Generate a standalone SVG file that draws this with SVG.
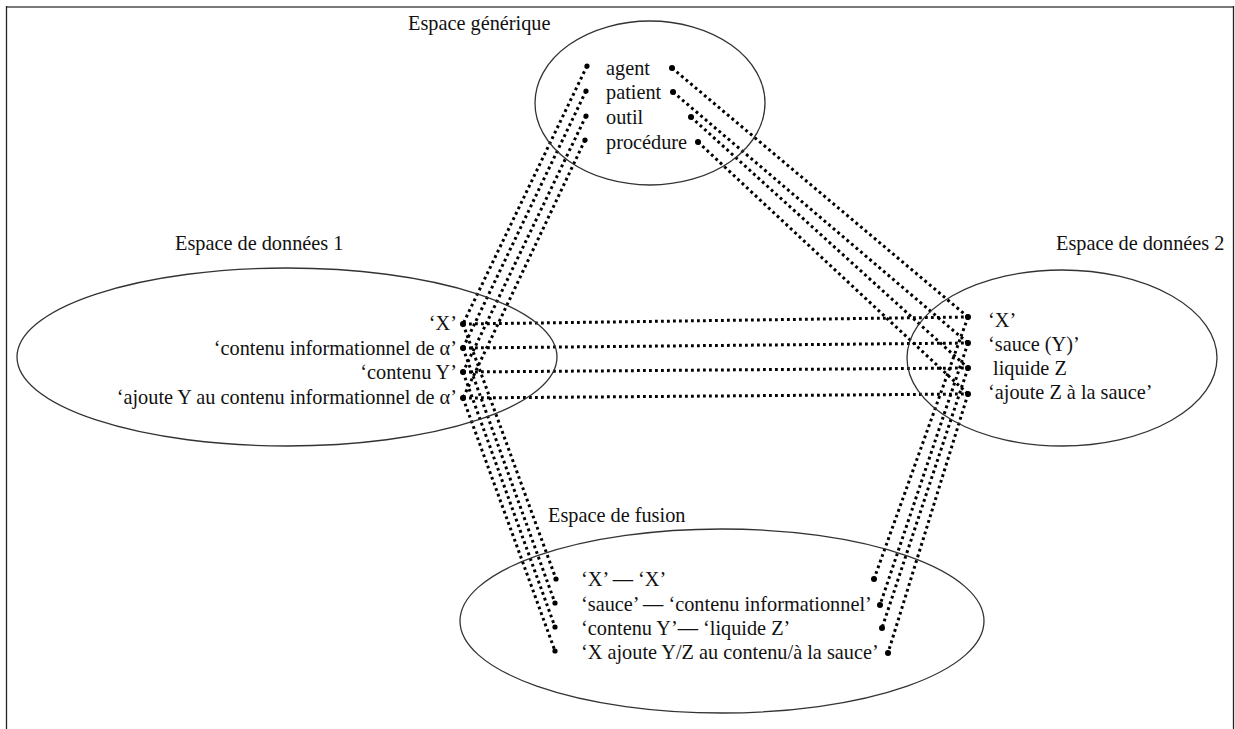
<svg xmlns="http://www.w3.org/2000/svg" width="1235" height="729" viewBox="0 0 1235 729">
<style>
.t{font-family:"Liberation Serif","Times New Roman",serif;font-size:20.3px;fill:#111}
.e{fill:none;stroke:#333;stroke-width:1.3}
.c{fill:none;stroke:#000;stroke-width:3;stroke-dasharray:2.8 3.2}
.d{fill:#000}
</style>
<rect width="1235" height="729" fill="#fff"/>
<g id="frame">
<line x1="6" y1="7" x2="1234" y2="7" stroke="#7a7a7a" stroke-width="2"/>
<line x1="6.5" y1="6" x2="6.5" y2="729" stroke="#222" stroke-width="1.3"/>
<line x1="1233.5" y1="6" x2="1233.5" y2="729" stroke="#222" stroke-width="1.3"/>
</g>
<g id="connectors">
<line class="c" x1="587" y1="66" x2="463" y2="324"/>
<line class="c" x1="586" y1="91" x2="463" y2="348"/>
<line class="c" x1="586" y1="116" x2="463" y2="372"/>
<line class="c" x1="585" y1="140" x2="463" y2="398"/>
<line class="c" x1="463" y1="324" x2="556" y2="579"/>
<line class="c" x1="463" y1="348" x2="555" y2="603"/>
<line class="c" x1="463" y1="372" x2="555" y2="627"/>
<line class="c" x1="463" y1="398" x2="555" y2="651"/>
<line class="c" x1="672" y1="68" x2="968" y2="317"/>
<line class="c" x1="673" y1="92" x2="968" y2="343"/>
<line class="c" x1="691" y1="117" x2="968" y2="368"/>
<line class="c" x1="698" y1="142" x2="968" y2="394"/>
<line class="c" x1="968" y1="317" x2="874" y2="579"/>
<line class="c" x1="968" y1="343" x2="880" y2="605"/>
<line class="c" x1="968" y1="368" x2="882" y2="628"/>
<line class="c" x1="968" y1="394" x2="888" y2="653"/>
<line class="c" x1="463" y1="324" x2="968" y2="317"/>
<line class="c" x1="463" y1="348" x2="968" y2="343"/>
<line class="c" x1="463" y1="372" x2="968" y2="368"/>
<line class="c" x1="463" y1="398" x2="968" y2="394"/>
</g>
<g id="generic">
<ellipse class="e" cx="650" cy="103" rx="115" ry="82"/>
<text class="t" x="408" y="30">Espace générique</text>
<text class="t" x="606" y="75">agent</text>
<text class="t" x="606" y="99">patient</text>
<text class="t" x="606" y="124">outil</text>
<text class="t" x="606" y="149">procédure</text>
<circle class="d" cx="587" cy="66" r="2.6"/>
<circle class="d" cx="586" cy="91" r="2.6"/>
<circle class="d" cx="586" cy="116" r="2.6"/>
<circle class="d" cx="585" cy="140" r="2.6"/>
<circle class="d" cx="672" cy="68" r="3"/>
<circle class="d" cx="673" cy="92" r="3"/>
<circle class="d" cx="691" cy="117" r="3"/>
<circle class="d" cx="698" cy="142" r="3"/>
</g>
<g id="input1">
<ellipse class="e" cx="287" cy="357" rx="270" ry="89"/>
<text class="t" x="175" y="250">Espace de données 1</text>
<g text-anchor="end">
<text class="t" x="457" y="330">‘X’</text>
<text class="t" x="457" y="355">‘contenu informationnel de α’</text>
<text class="t" x="457" y="379">‘contenu Y’</text>
<text class="t" x="457" y="404">‘ajoute Y au contenu informationnel de α’</text>
</g>
<circle class="d" cx="463" cy="324" r="3"/>
<circle class="d" cx="463" cy="348" r="3"/>
<circle class="d" cx="463" cy="372" r="3"/>
<circle class="d" cx="463" cy="398" r="3"/>
</g>
<g id="input2">
<ellipse class="e" cx="1062" cy="358" rx="155" ry="88"/>
<text class="t" x="1056" y="250">Espace de données 2</text>
<text class="t" x="988" y="327">‘X’</text>
<text class="t" x="988" y="351">‘sauce (Y)’</text>
<text class="t" x="993" y="375">liquide Z</text>
<text class="t" x="988" y="399">‘ajoute Z à la sauce’</text>
<circle class="d" cx="968" cy="317" r="3"/>
<circle class="d" cx="968" cy="343" r="3"/>
<circle class="d" cx="968" cy="368" r="3"/>
<circle class="d" cx="968" cy="394" r="3"/>
</g>
<g id="blend">
<ellipse class="e" cx="722" cy="621" rx="262" ry="92"/>
<text class="t" x="548" y="522">Espace de fusion</text>
<text class="t" x="581" y="586">‘X’ — ‘X’</text>
<text class="t" x="581" y="611">‘sauce’ — ‘contenu informationnel’</text>
<text class="t" x="581" y="635">‘contenu Y’— ‘liquide Z’</text>
<text class="t" x="581" y="659">‘X ajoute Y/Z au contenu/à la sauce’</text>
<circle class="d" cx="556" cy="579" r="2.6"/>
<circle class="d" cx="555" cy="603" r="2.6"/>
<circle class="d" cx="555" cy="627" r="2.6"/>
<circle class="d" cx="555" cy="651" r="2.6"/>
<circle class="d" cx="874" cy="579" r="3"/>
<circle class="d" cx="880" cy="605" r="3"/>
<circle class="d" cx="882" cy="628" r="3"/>
<circle class="d" cx="888" cy="653" r="3"/>
</g>
</svg>
